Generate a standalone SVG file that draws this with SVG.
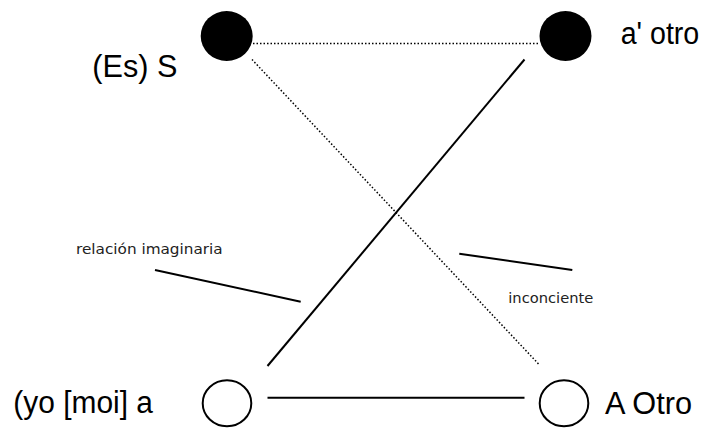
<svg xmlns="http://www.w3.org/2000/svg" width="708" height="428" viewBox="0 0 708 428">
<style>
.big{font-family:"Liberation Sans",Arial,sans-serif;font-size:31px;fill:#000}
.small{font-family:"DejaVu Sans",Verdana,sans-serif;font-size:14px;fill:#222}
.solid{stroke:#000;stroke-width:2;fill:none}
.dot{stroke:#000;stroke-width:1.5;stroke-dasharray:1.5 2;fill:none}
.filled{fill:#000}
.open{fill:#fff;stroke:#000;stroke-width:2}
</style>
<rect width="708" height="428" fill="#fff"/>
<g id="connectors">
<line class="dot" x1="253" y1="43.5" x2="539" y2="43.5"/>
<line class="dot" x1="252" y1="59.5" x2="539.5" y2="365"/>
<line class="solid" x1="524.5" y1="59.5" x2="267.5" y2="366"/>
<line class="solid" x1="267.5" y1="397.7" x2="524.5" y2="397.7"/>
<line class="solid" x1="155" y1="270" x2="300.7" y2="301.7"/>
<line class="solid" x1="459.3" y1="253.7" x2="572.3" y2="270"/>
</g>
<g id="node-S">
<ellipse class="filled" cx="226.7" cy="36" rx="26" ry="25"/>
<text class="big" x="92.3" y="77.3" textLength="85" lengthAdjust="spacingAndGlyphs">(Es) S</text>
</g>
<g id="node-a-otro">
<ellipse class="filled" cx="565.5" cy="36" rx="26" ry="25"/>
<text class="big" x="620.7" y="44" textLength="78.6" lengthAdjust="spacingAndGlyphs">a' otro</text>
</g>
<g id="node-yo">
<ellipse class="open" cx="227" cy="403.3" rx="24.3" ry="23"/>
<text class="big" x="13.3" y="413.3" textLength="139.7" lengthAdjust="spacingAndGlyphs">(yo [moi] a</text>
</g>
<g id="node-A-Otro">
<ellipse class="open" cx="564" cy="403.3" rx="24.3" ry="23"/>
<text class="big" x="605" y="414" textLength="87" lengthAdjust="spacingAndGlyphs">A Otro</text>
</g>
<g id="label-relacion">
<text class="small" x="76" y="254" textLength="146.7" lengthAdjust="spacingAndGlyphs">relación imaginaria</text>
</g>
<g id="label-inconciente">
<text class="small" x="508.3" y="302.7" textLength="85" lengthAdjust="spacingAndGlyphs">inconciente</text>
</g>
</svg>
